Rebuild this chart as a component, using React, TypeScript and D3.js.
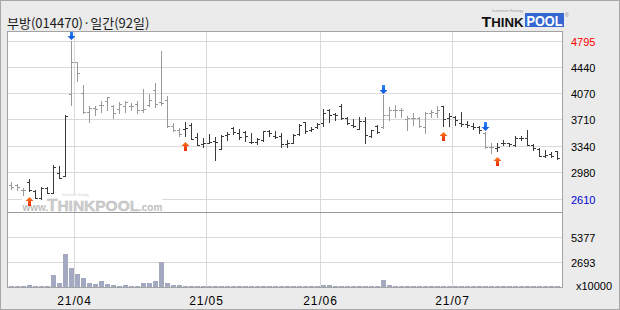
import React from 'react';
import * as d3 from 'd3';

// ---------- data (daily OHLC, 92 trading days) ----------
const opens = [
  2800, 2800, 2740, 2845, 2725, 2625, 2765, 2695, 2970, 2930,
  4060, 4500, 4075, 3820, 3865, 3910, 3970, 3900, 3850, 3900,
  3890, 3920, 3845, 3910, 4120, 3945, 3980, 3625, 3565, 3575,
  3635, 3470, 3375, 3390, 3410, 3305, 3500, 3585, 3520, 3535,
  3400, 3405, 3420, 3545, 3475, 3475, 3370, 3390, 3510, 3670,
  3560, 3600, 3660, 3845, 3790, 3900, 3730, 3635, 3580, 3695,
  3475, 3625, 3600, 3765, 3835, 3845, 3715, 3730, 3730, 3605,
  3805, 3805, 3890, 3730, 3745, 3660, 3650, 3615, 3605, 3520,
  3330, 3315, 3390, 3385, 3360, 3450, 3450, 3360, 3305, 3210,
  3235, 3270,
];
const highs = [
  2840, 2820, 2760, 2885, 2735, 2775, 2775, 3085, 3060, 3770,
  4795, 4510, 4190, 3890, 3890, 3960, 4025, 3910, 3945, 3970,
  3935, 3960, 4130, 4065, 4220, 4650, 4035, 3660, 3590, 3670,
  3660, 3520, 3460, 3510, 3470, 3500, 3530, 3605, 3575, 3545,
  3520, 3460, 3555, 3565, 3545, 3520, 3430, 3510, 3650, 3680,
  3605, 3660, 3850, 3855, 3805, 3920, 3740, 3715, 3750, 3740,
  3565, 3635, 4050, 3880, 3905, 3865, 3760, 3805, 3740, 3820,
  3845, 3900, 3900, 3805, 3760, 3815, 3695, 3660, 3620, 3530,
  3385, 3390, 3430, 3390, 3485, 3475, 3560, 3370, 3315, 3290,
  3255, 3275,
];
const lows = [
  2750, 2730, 2670, 2715, 2620, 2610, 2690, 2690, 2895, 2925,
  3910, 4235, 3805, 3680, 3775, 3820, 3845, 3730, 3805, 3820,
  3845, 3795, 3820, 3900, 3880, 3910, 3605, 3555, 3475, 3475,
  3440, 3350, 3335, 3385, 3145, 3300, 3420, 3510, 3445, 3410,
  3385, 3375, 3410, 3475, 3450, 3335, 3330, 3385, 3500, 3520,
  3545, 3590, 3615, 3680, 3705, 3715, 3650, 3605, 3575, 3390,
  3465, 3520, 3590, 3705, 3750, 3740, 3560, 3635, 3605, 3520,
  3740, 3740, 3615, 3615, 3635, 3620, 3605, 3575, 3520, 3315,
  3245, 3280, 3360, 3345, 3345, 3420, 3360, 3290, 3200, 3190,
  3190, 3160,
];
const closes = [
  2780, 2775, 2730, 2730, 2625, 2765, 2695, 3050, 2905, 3760,
  4500, 4350, 3820, 3875, 3855, 3910, 4025, 3800, 3925, 3945,
  3900, 3845, 3850, 3980, 3925, 3935, 3615, 3570, 3505, 3590,
  3445, 3355, 3385, 3405, 3400, 3475, 3510, 3540, 3465, 3485,
  3395, 3440, 3545, 3520, 3465, 3370, 3385, 3500, 3635, 3545,
  3575, 3645, 3805, 3775, 3775, 3730, 3660, 3615, 3695, 3495,
  3560, 3530, 3765, 3835, 3845, 3845, 3730, 3730, 3615, 3805,
  3820, 3845, 3715, 3760, 3705, 3645, 3635, 3605, 3560, 3330,
  3335, 3335, 3390, 3370, 3450, 3450, 3360, 3315, 3210, 3220,
  3210, 3175,
];
// volume, unit x10000
const volumes = [
  150, 150, 120, 250, 120, 130, 140, 1330, 450, 3600,
  2100, 1430, 980, 470, 320, 670, 330, 220, 150, 220,
  150, 150, 450, 450, 690, 2760, 450, 230, 180, 110,
  100, 100, 100, 100, 100, 100, 100, 100, 100, 100,
  100, 100, 100, 100, 100, 100, 100, 100, 100, 100,
  100, 100, 250, 250, 100, 100, 100, 100, 100, 100,
  100, 100, 760, 220, 100, 100, 100, 100, 100, 100,
  100, 100, 100, 100, 100, 100, 100, 100, 100, 100,
  100, 100, 100, 100, 100, 100, 100, 100, 100, 100,
  100, 100,
];
const buySignals = [3, 29, 72, 81];
const sellSignals = [10, 62, 79];

const monthLabels = ['21/04', '21/05', '21/06', '21/07'];
const monthStarts = [11, 33, 52, 74];
const priceTicks = [4795, 4440, 4070, 3710, 3340, 2980, 2610];
const volumeTicks = [5377, 2693];
const title = '부방(014470)·일간(92일)';

export default function App() {
  const W = 620;
  const H = 310;
  const n = opens.length;
  const idx = d3.range(n);

  const x = d3.scaleBand<number>().domain(idx).range([8, 8 + 6 * n]).padding(0);
  const y = d3.scaleLinear().domain([2610, 4795]).range([199.5, 41.5]);
  const yv = d3.scaleLinear().domain([0, 5377]).range([287, 237.5]);

  const row = (v: number) => Math.floor(y(v));
  const col = (i: number) => (x(i) as number) + 3; // pixel column of bar stem

  // signal state: dark after buy, gray after sell
  const state: boolean[] = [];
  let dark = false;
  for (let i = 0; i < n; i++) {
    if (buySignals.includes(i)) dark = true;
    if (sellSignals.includes(i)) dark = false;
    state.push(dark);
  }

  const panelL = 7.5, panelR = 562.5, panelT = 31.5, panelB = 287.5;
  const grid = '#d9d9d9';
  const frame = '#a3a3a3';
  const numFont = '"Liberation Sans", Arial, sans-serif';

  const redArrow = (cx: number, top: number) =>
    `M${cx},${top} L${cx + 4},${top + 4} L${cx + 1.5},${top + 4} L${cx + 1.5},${top + 9} L${cx - 1.5},${top + 9} L${cx - 1.5},${top + 4} L${cx - 4},${top + 4} Z`;
  const blueArrow = (cx: number, tip: number) =>
    `M${cx},${tip} L${cx + 4},${tip - 4} L${cx + 1.5},${tip - 4} L${cx + 1.5},${tip - 9} L${cx - 1.5},${tip - 9} L${cx - 1.5},${tip - 4} L${cx - 4},${tip - 4} Z`;

  return (
    <svg
      width={W}
      height={H}
      viewBox={`0 0 ${W} ${H}`}
      style={{ position: 'absolute', left: 0, top: 0, display: 'block' }}
    >
      <defs>
        <linearGradient id="redg" x1="0" y1="0" x2="0" y2="1">
          <stop offset="0" stopColor="#ff7a1a" />
          <stop offset="1" stopColor="#e8280a" />
        </linearGradient>
        <linearGradient id="blueg" x1="0" y1="0" x2="0" y2="1">
          <stop offset="0" stopColor="#2a86ff" />
          <stop offset="1" stopColor="#0a4fd6" />
        </linearGradient>
      </defs>
      {/* background */}
      <rect x={0} y={0} width={W} height={H} fill="#ebebeb" />
      <rect x={0.5} y={0.5} width={W - 1} height={H - 1} fill="none" stroke="#a8a8a8" />

      {/* title */}
      <text
        x={7}
        y={28}
        fontFamily='"Noto Sans CJK KR", "Noto Sans", sans-serif'
        fontSize={13}
        fill="#1a1a1a"
      >
        {title}
      </text>

      {/* logo */}
      <text x={492} y={12} fontFamily={numFont} fontSize={3.5} fill="#9a9a9a">
        Investment Strategy
      </text>
      <text
        x={481.5}
        y={26.5}
        fontFamily={numFont}
        fontWeight="bold"
        fill="#111"
        textLength={42}
        lengthAdjust="spacingAndGlyphs"
      >
        <tspan fontSize={15}>T</tspan>
        <tspan fontSize={12.5}>HINK</tspan>
      </text>
      <rect x={525} y={13} width={39} height={14} fill="#3567d3" />
      <text
        x={526.5}
        y={26}
        fontFamily={numFont}
        fontWeight="bold"
        fontSize={14}
        fill="#fff"
        textLength={36}
        lengthAdjust="spacingAndGlyphs"
      >
        POOL
      </text>
      <text x={565} y={17} fontFamily={numFont} fontSize={5} fill="#888">®</text>

      {/* panel */}
      <rect x={panelL} y={panelT} width={panelR - panelL} height={panelB - panelT} fill="#fff" />

      {/* horizontal grid */}
      {priceTicks.map((t) => (
        <line
          key={'pg' + t}
          x1={panelL}
          x2={panelR}
          y1={row(t) + 0.5}
          y2={row(t) + 0.5}
          stroke={grid}
          shapeRendering="crispEdges"
        />
      ))}
      {volumeTicks.map((t) => (
        <line
          key={'vg' + t}
          x1={panelL}
          x2={panelR}
          y1={Math.floor(yv(t)) + 0.5}
          y2={Math.floor(yv(t)) + 0.5}
          stroke={grid}
          shapeRendering="crispEdges"
        />
      ))}
      {/* vertical grid */}
      {monthStarts.map((s) => (
        <line
          key={'mg' + s}
          x1={(x(s) as number) + 0.5}
          x2={(x(s) as number) + 0.5}
          y1={panelT}
          y2={panelB}
          stroke={grid}
          shapeRendering="crispEdges"
        />
      ))}

      {/* watermark */}
      <rect x={22} y={194} width={140} height={17} fill="#fff" />
      <text x={62} y={196} fontFamily={numFont} fontSize={3} fill="#d0d0d0">
        Investment Strategy
      </text>
      <text fontFamily={numFont} fontWeight="bold" y={210.5}>
        <tspan x={22.5} fontSize={10} fill="#bdbdbd">www.</tspan>
        <tspan x={47} fontSize={17} fill="#cdcdcd" stroke="#bcbcbc" strokeWidth={0.4}>T</tspan>
        <tspan fontSize={15.5} fill="#cdcdcd" stroke="#bcbcbc" strokeWidth={0.4}>HINK</tspan>
        <tspan fontSize={15.5} fill="#cdcdcd" stroke="#bcbcbc" strokeWidth={0.4}>POOL</tspan>
        <tspan x={139} fontSize={10} fill="#bdbdbd">.com</tspan>
      </text>

      {/* volume bars */}
      {idx.map((i) => {
        const top = Math.min(Math.round(yv(volumes[i])), 286);
        return (
          <rect
            key={'v' + i}
            x={(x(i) as number) + 1}
            y={top}
            width={5}
            height={287 - top}
            fill="#a2a9c0"
            shapeRendering="crispEdges"
          />
        );
      })}

      {/* OHLC bars */}
      {idx.map((i) => {
        const c = col(i);
        const color = state[i] ? '#3a3a3a' : '#9a9a9a';
        const rh = row(highs[i]);
        const rl = row(lows[i]);
        const ro = row(opens[i]) + 0.5;
        const rc = row(closes[i]) + 0.5;
        return (
          <g key={'b' + i} stroke={color} shapeRendering="crispEdges">
            <line x1={c + 0.5} x2={c + 0.5} y1={rh} y2={rl + 1} />
            <line x1={c - 2} x2={c} y1={ro} y2={ro} />
            <line x1={c + 1} x2={c + 3} y1={rc} y2={rc} />
          </g>
        );
      })}

      {/* signals */}
      {buySignals.map((i) => (
        <path key={'buy' + i} d={redArrow(col(i) + 0.5, row(lows[i]) + 6)} fill="url(#redg)" />
      ))}
      {sellSignals.map((i) => (
        <path key={'sell' + i} d={blueArrow(col(i) + 0.5, row(highs[i]) - 1)} fill="url(#blueg)" />
      ))}

      {/* panel frame + separator */}
      <line x1={panelL} x2={panelR} y1={212.5} y2={212.5} stroke="#9a9a9a" shapeRendering="crispEdges" />
      <rect
        x={panelL}
        y={panelT}
        width={panelR - panelL}
        height={panelB - panelT}
        fill="none"
        stroke={frame}
        shapeRendering="crispEdges"
      />

      {/* right price labels */}
      {priceTicks.map((t, k) => (
        <text
          key={'pl' + t}
          x={571}
          y={row(t) + 5}
          fontFamily={numFont}
          fontSize={11}
          fill={k === 0 ? '#ff0000' : k === priceTicks.length - 1 ? '#0000d0' : '#000'}
        >
          {t}
        </text>
      ))}
      {volumeTicks.map((t) => (
        <text key={'vl' + t} x={571} y={Math.floor(yv(t)) + 5} fontFamily={numFont} fontSize={11} fill="#000">
          {t}
        </text>
      ))}
      <text x={576} y={290} fontFamily={numFont} fontSize={11} fill="#000">
        x10000
      </text>

      {/* month labels */}
      {monthStarts.map((s, k) => (
        <text
          key={'ml' + s}
          x={(x(s) as number) + 0.5}
          y={305}
          textAnchor="middle"
          fontFamily={numFont}
          fontSize={12}
          letterSpacing={0.9}
          fill="#000"
        >
          {monthLabels[k]}
        </text>
      ))}
    </svg>
  );
}
